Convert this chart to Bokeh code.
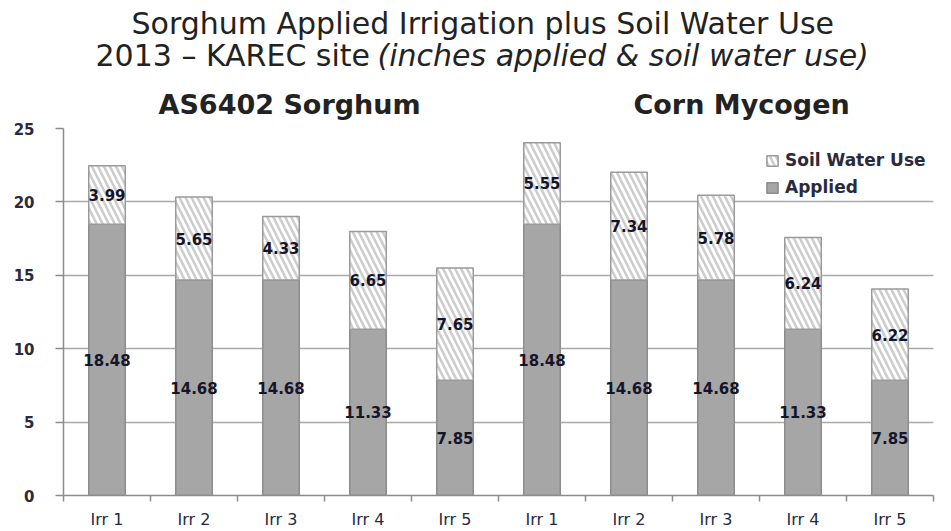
from bokeh.plotting import figure
from bokeh.layouts import column
from bokeh.models import (ColumnDataSource, Range1d, FixedTicker, Label, Legend,
                          LegendItem)
from bokeh.core.properties import value
from bokeh.embed import file_html
from bokeh.resources import INLINE

# ---- data ----
irr_labels = ["Irr 1", "Irr 2", "Irr 3", "Irr 4", "Irr 5",
              "Irr 1", "Irr 2", "Irr 3", "Irr 4", "Irr 5"]
crops = ["AS6402 Sorghum", "Corn Mycogen"]
applied = [18.48, 14.68, 14.68, 11.33, 7.85, 18.48, 14.68, 14.68, 11.33, 7.85]
soil_water_use = [3.99, 5.65, 4.33, 6.65, 7.65, 5.55, 7.34, 5.78, 6.24, 6.22]
title_line1 = "Sorghum Applied Irrigation plus Soil Water Use"
title_line2a = "2013 \u2013 KAREC site"
title_line2b = "(inches applied & soil water use)"

W = 951
TH = 122          # height of the title strip
CH = 531 - TH     # height of the chart
FRAME_L, FRAME_R = 63, 933   # chart frame (the column aligns both frames)

# ---------------- title strip ----------------
t = figure(width=W, height=TH, output_backend="svg", toolbar_location=None,
           x_range=Range1d(FRAME_L, FRAME_R), y_range=Range1d(TH, 0),
           x_axis_type=None, y_axis_type=None,
           min_border=0, min_border_left=0, min_border_right=0,
           min_border_top=0, min_border_bottom=0)
t.title = None
t.outline_line_color = None
t.grid.visible = False
t.background_fill_color = "white"
t.border_fill_color = "white"

tkw = dict(text_font="DejaVu Sans", text_color="#222222",
           text_baseline="alphabetic", text_align="left")
t.add_layout(Label(x=131, y=23, text=title_line1,
                   text_font_size="30px", **tkw))
t.add_layout(Label(x=95, y=55, text=title_line2a,
                   text_font_size="30px", **tkw))
t.add_layout(Label(x=377, y=55, text=title_line2b,
                   text_font_size="30px", text_font_style="italic", **tkw))
t.add_layout(Label(x=158, y=104, text=crops[0],
                   text_font_size="27px", text_font_style="bold", **tkw))
t.add_layout(Label(x=633, y=104, text=crops[1],
                   text_font_size="27px", text_font_style="bold", **tkw))

# ---------------- chart ----------------
xpos = list(range(1, len(irr_labels) + 1))
src = ColumnDataSource(dict(
    x=xpos, applied=applied, soil=soil_water_use,
    total=[a + s for a, s in zip(applied, soil_water_use)],
    app_mid=[a / 2 for a in applied],
    soil_mid=[a + s / 2 for a, s in zip(applied, soil_water_use)],
    app_txt=["%.2f" % v for v in applied],
    soil_txt=["%.2f" % v for v in soil_water_use],
))

p = figure(width=W, height=CH, output_backend="svg", toolbar_location=None,
           x_range=Range1d(0.5, len(xpos) + 0.5), y_range=Range1d(0, 25),
           min_border_left=FRAME_L, min_border_right=W - FRAME_R,
           min_border_top=6, min_border_bottom=34)
p.title = None
p.outline_line_color = None
p.background_fill_color = "white"
p.border_fill_color = "white"

r_app = p.vbar(x="x", bottom=0, top="applied", width=0.42, source=src,
               fill_color="#a6a6a6", line_color="#8c8c8c", line_width=1.5)
r_soil = p.vbar(x="x", bottom="applied", top="total", width=0.42, source=src,
                fill_color="white", line_color="#9a9a9a", line_width=1.5,
                hatch_pattern="left_diagonal_line", hatch_color="#cccccc",
                hatch_scale=12, hatch_weight=2.5)

lab_kw = dict(text_font=value("DejaVu Sans"), text_font_style="bold",
              text_font_size="15px", text_color="#15152a",
              text_align="center", text_baseline="middle")
p.text(x="x", y="app_mid", text="app_txt", source=src, **lab_kw)
p.text(x="x", y="soil_mid", text="soil_txt", source=src, **lab_kw)

p.xaxis.ticker = FixedTicker(ticks=xpos,
                             minor_ticks=[v + 0.5 for v in range(0, len(xpos) + 1)])
p.xaxis.major_label_overrides = {x: l for x, l in zip(xpos, irr_labels)}
p.xaxis.major_tick_line_color = None
p.xaxis.major_tick_out = 0
p.xaxis.minor_tick_out = 6
p.xaxis.minor_tick_in = 0
p.xaxis.minor_tick_line_color = "#8c8c8c"
p.xaxis.minor_tick_line_width = 1.5
p.xaxis.axis_line_color = "#8c8c8c"
p.xaxis.axis_line_width = 1.5
p.xaxis.major_label_text_font = "DejaVu Sans"
p.xaxis.major_label_text_font_size = "16px"
p.xaxis.major_label_text_color = "#1f2a48"
p.xaxis.major_label_standoff = 8

p.yaxis.ticker = FixedTicker(ticks=[0, 5, 10, 15, 20, 25])
p.yaxis.minor_tick_line_color = None
p.yaxis.major_tick_out = 8
p.yaxis.major_tick_in = 0
p.yaxis.major_tick_line_color = "#8c8c8c"
p.yaxis.major_tick_line_width = 1.5
p.yaxis.axis_line_color = "#8c8c8c"
p.yaxis.axis_line_width = 1.5
p.yaxis.major_label_text_font = "DejaVu Sans"
p.yaxis.major_label_text_font_style = "bold"
p.yaxis.major_label_text_font_size = "15px"
p.yaxis.major_label_text_color = "#2a2a3a"
p.yaxis.major_label_standoff = 21

p.xgrid.grid_line_color = None
p.ygrid.grid_line_color = "#a8a8a8"
p.ygrid.grid_line_width = 1.5

legend = Legend(items=[LegendItem(label="Soil Water Use", renderers=[r_soil]),
                       LegendItem(label="Applied", renderers=[r_app])],
                location=(702, 298), orientation="vertical",
                glyph_width=14, glyph_height=13, label_height=13,
                spacing=7, padding=0, margin=0, label_standoff=6,
                background_fill_alpha=0, border_line_color=None,
                label_text_font="DejaVu Sans", label_text_font_style="bold",
                label_text_font_size="17px", label_text_color="#2a2a3a",
                label_text_baseline="middle")
p.add_layout(legend, "center")

layout = column(t, p, spacing=0)
open("out.html", "w").write(file_html(layout, INLINE))
